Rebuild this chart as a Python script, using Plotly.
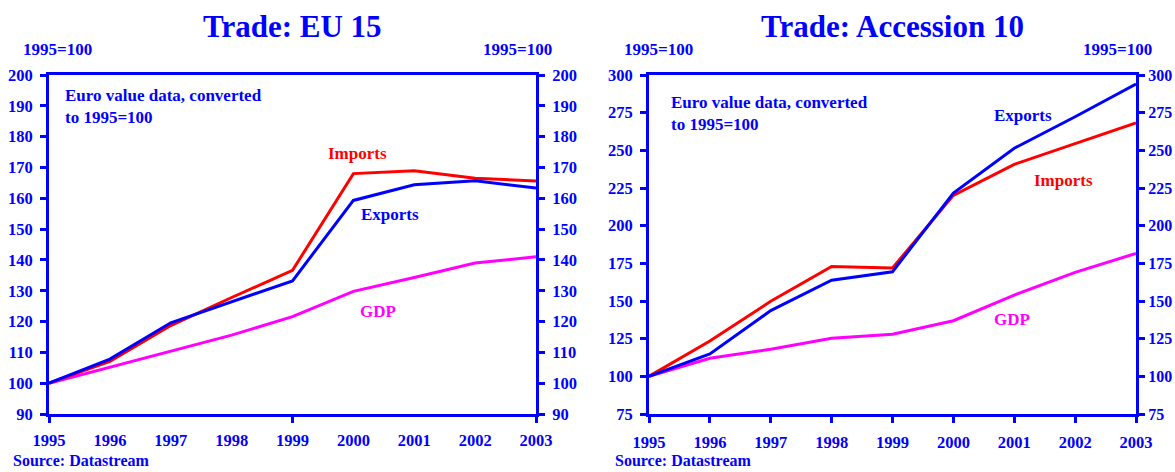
import plotly.graph_objects as go

# ---------------- data ----------------
years = [1995, 1996, 1997, 1998, 1999, 2000, 2001, 2002, 2003]

eu_imports = [100, 107.1, 118.7, 127.8, 136.6, 168.0, 168.9, 166.5, 165.6]
eu_exports = [100, 107.8, 119.6, 126.5, 133.2, 159.3, 164.4, 165.7, 163.3]
eu_gdp = [100, 105.2, 110.6, 115.6, 121.6, 129.8, 134.3, 139.0, 141.0]

ac_imports = [100, 123.4, 149.8, 172.9, 171.9, 220.1, 240.7, 254.5, 268.2]
ac_exports = [100, 114.8, 143.6, 163.8, 169.4, 221.7, 251.4, 272.3, 294.0]
ac_gdp = [100, 112.0, 118.0, 125.3, 128.0, 136.9, 153.9, 169.0, 181.6]

titles = ["Trade: EU 15", "Trade: Accession 10"]
unit_label = "1995=100"
note_text = "Euro value data, converted<br>to 1995=100"
source_text = "Source: Datastream"
eu_major_ticks = [1995, 1999, 2003]

# ---------------- style ----------------
W, H = 1175, 472
BLUE = "#0000FF"
RED = "#FF0000"
MAG = "#FF00FF"
FONT = "Liberation Serif"


def px(x):
    return x / W


def py(y):
    return 1 - y / H


L1, R1 = 49, 536
L2, R2 = 649, 1136
TOP, BOT = 75, 414

fig = go.Figure()

# left chart
fig.add_trace(go.Scatter(x=years, y=eu_gdp, mode="lines", line=dict(color=MAG, width=3),
                         xaxis="x", yaxis="y", showlegend=False, hoverinfo="skip"))
fig.add_trace(go.Scatter(x=years, y=eu_imports, mode="lines", line=dict(color=RED, width=3),
                         xaxis="x", yaxis="y", showlegend=False, hoverinfo="skip"))
fig.add_trace(go.Scatter(x=years, y=eu_exports, mode="lines", line=dict(color=BLUE, width=3),
                         xaxis="x", yaxis="y", showlegend=False, hoverinfo="skip"))
# invisible helpers so overlay axes are drawn
fig.add_trace(go.Scatter(x=years[:1], y=eu_gdp[:1], mode="markers", marker=dict(opacity=0),
                         xaxis="x", yaxis="y2", showlegend=False, hoverinfo="skip"))
fig.add_trace(go.Scatter(x=years[:1], y=eu_gdp[:1], mode="markers", marker=dict(opacity=0),
                         xaxis="x3", yaxis="y", showlegend=False, hoverinfo="skip"))

# right chart
fig.add_trace(go.Scatter(x=years, y=ac_gdp, mode="lines", line=dict(color=MAG, width=3),
                         xaxis="x2", yaxis="y3", showlegend=False, hoverinfo="skip"))
fig.add_trace(go.Scatter(x=years, y=ac_imports, mode="lines", line=dict(color=RED, width=3),
                         xaxis="x2", yaxis="y3", showlegend=False, hoverinfo="skip"))
fig.add_trace(go.Scatter(x=years, y=ac_exports, mode="lines", line=dict(color=BLUE, width=3),
                         xaxis="x2", yaxis="y3", showlegend=False, hoverinfo="skip"))
fig.add_trace(go.Scatter(x=years[:1], y=ac_gdp[:1], mode="markers", marker=dict(opacity=0),
                         xaxis="x2", yaxis="y4", showlegend=False, hoverinfo="skip"))

tickfont = dict(family=FONT, size=16.5, color=BLUE, weight="bold")
axis_common = dict(showline=True, linecolor=BLUE, linewidth=3, showgrid=False, zeroline=False,
                   ticks="outside", tickcolor=BLUE, tickwidth=2.5, ticklen=6,
                   tickfont=tickfont, automargin=False, fixedrange=True)

fig.update_layout(
    width=W, height=H,
    margin=dict(l=0, r=0, t=0, b=0),
    paper_bgcolor="white", plot_bgcolor="white",
    font=dict(family=FONT, color=BLUE),
    xaxis=dict(axis_common, domain=[px(L1), px(R1)], range=[1995, 2003], anchor="y",
               tickvals=eu_major_ticks, showticklabels=False, mirror=True),
    xaxis3=dict(axis_common, overlaying="x", side="bottom", anchor="y", range=[1995, 2003],
                tickvals=years, showline=False, tickcolor="rgba(0,0,0,0)", ticklabelstandoff=5),
    yaxis=dict(axis_common, domain=[py(BOT), py(TOP)], range=[90, 200], dtick=10, tick0=90,
               anchor="x", ticklabelstandoff=4),
    yaxis2=dict(axis_common, overlaying="y", side="right", anchor="x", range=[90, 200],
                dtick=10, tick0=90, ticklabelstandoff=4),
    xaxis2=dict(axis_common, domain=[px(L2), px(R2)], range=[1995, 2003], anchor="y3",
                tickvals=years, mirror=True, ticklabelstandoff=5),
    yaxis3=dict(axis_common, domain=[py(BOT), py(TOP)], range=[75, 300], dtick=25, tick0=75,
                anchor="x2", ticklabelstandoff=4),
    yaxis4=dict(axis_common, overlaying="y3", side="right", anchor="x2", range=[75, 300],
                dtick=25, tick0=75, ticklabelstandoff=0,
                tickfont=dict(family=FONT, size=16, color=BLUE, weight="bold")),
)

ann = []


def text(x, y, s, size=17, color=BLUE, xanchor="center", yanchor="middle", align="center"):
    ann.append(dict(x=px(x), y=py(y), xref="paper", yref="paper", text=s, showarrow=False,
                    xanchor=xanchor, yanchor=yanchor, align=align,
                    font=dict(family=FONT, size=size, color=color, weight="bold")))


# titles
text((L1 + R1) / 2, 27, titles[0], size=31)
text((L2 + R2) / 2, 27, titles[1], size=31)
# unit labels
text(57, 49, unit_label)
text(517, 49, unit_label)
text(658, 49, unit_label)
text(1117, 49, unit_label)
# notes
text(63, 84, note_text, xanchor="left", yanchor="top", align="left")
text(669, 91, note_text, xanchor="left", yanchor="top", align="left")
# series labels left
text(357, 153, "Imports", color=RED)
text(390, 214, "Exports", color=BLUE)
text(378, 311, "GDP", color=MAG)
# series labels right
text(1023, 115, "Exports", color=BLUE)
text(1063, 180, "Imports", color=RED)
text(1012, 319, "GDP", color=MAG)
# sources
text(11, 471, source_text, size=16, xanchor="left", yanchor="bottom")
text(613, 471, source_text, size=16, xanchor="left", yanchor="bottom")

fig.update_layout(annotations=ann)

fig.write_html("out.html", config={"displayModeBar": False},
               post_script="document.body.style.margin='0';document.body.style.overflow='hidden';")
